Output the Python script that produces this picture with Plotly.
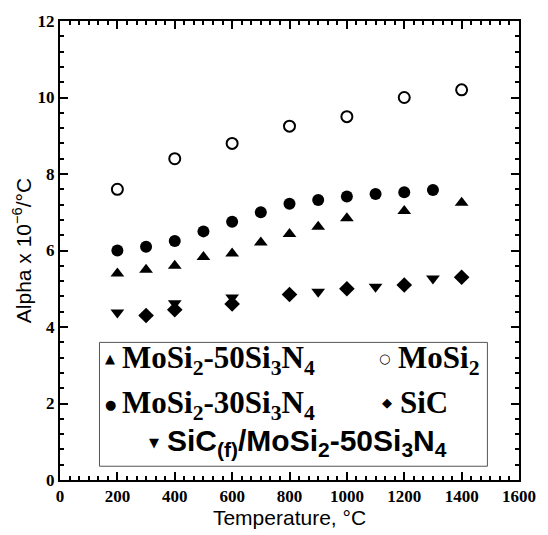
import plotly.graph_objects as go

# ---- data ----
temp_mosi2 = [200, 400, 600, 800, 1000, 1200, 1400]
alpha_mosi2 = [7.6, 8.4, 8.8, 9.25, 9.5, 10.0, 10.2]

temp_30 = [200, 300, 400, 500, 600, 700, 800, 900, 1000, 1100, 1200, 1300]
alpha_30 = [6.0, 6.1, 6.25, 6.5, 6.75, 7.0, 7.22, 7.32, 7.41, 7.48, 7.52, 7.58]

temp_50 = [200, 300, 400, 500, 600, 700, 800, 900, 1000, 1200, 1400]
alpha_50 = [5.4, 5.5, 5.6, 5.83, 5.92, 6.21, 6.43, 6.62, 6.84, 7.03, 7.25]

temp_sic = [300, 400, 600, 800, 1000, 1200, 1400]
alpha_sic = [4.3, 4.45, 4.6, 4.85, 5.0, 5.1, 5.3]

temp_sicf = [200, 400, 600, 900, 1100, 1300]
alpha_sicf = [4.38, 4.62, 4.77, 4.92, 5.05, 5.27]

x_ticks = [0, 200, 400, 600, 800, 1000, 1200, 1400, 1600]
y_ticks = [0, 2, 4, 6, 8, 10, 12]

# ---- figure ----
W, H = 548, 535
L, R, T, B = 60, 23, 18, 50
PW, PH = W - L - R, H - T - B

def px(xp):
    return (xp - L) / PW

def py(yp):
    return (H - B - yp) / PH

fig = go.Figure()
mk = dict(color="black", size=12)
fig.add_trace(go.Scatter(x=temp_mosi2, y=alpha_mosi2, mode="markers",
                         marker=dict(symbol="circle-open", color="black", size=11,
                                     line=dict(width=2, color="black"))))
fig.add_trace(go.Scatter(x=temp_30, y=alpha_30, mode="markers",
                         marker=dict(symbol="circle", **mk)))
fig.add_trace(go.Scatter(x=temp_50, y=alpha_50, mode="markers",
                         marker=dict(symbol="triangle-up", **mk)))
fig.add_trace(go.Scatter(x=temp_sicf, y=alpha_sicf, mode="markers",
                         marker=dict(symbol="triangle-down", **mk)))
fig.add_trace(go.Scatter(x=temp_sic, y=alpha_sic, mode="markers",
                         marker=dict(symbol="diamond", **mk)))

tickfont = dict(family="Liberation Serif", size=17, color="black", weight="bold")
axis_common = dict(showgrid=False, zeroline=False, showline=True, linewidth=2,
                   linecolor="black", mirror="ticks", ticks="inside",
                   ticklen=8, tickwidth=1.5, tickcolor="black", tickfont=tickfont)

fig.update_xaxes(range=[0, 1600], tickvals=x_ticks, ticktext=[f"<b>{v}</b>" for v in x_ticks],
                 minor=dict(dtick=200 / 6, tick0=0, ticks="inside", ticklen=4,
                            tickwidth=1.5, tickcolor="black"),
                 title=dict(text="Temperature, °C", standoff=2,
                            font=dict(family="Liberation Sans", size=21, color="black")),
                 **axis_common)
fig.update_yaxes(range=[0, 12], tickvals=y_ticks, ticktext=[f"<b>{v}</b>" for v in y_ticks],
                 minor=dict(dtick=0.4, tick0=0, ticks="inside", ticklen=4,
                            tickwidth=1.5, tickcolor="black"),
                 title=dict(text="Alpha x 10<sup>−6</sup>/°C", standoff=0,
                            font=dict(family="Liberation Sans", size=21, color="black")),
                 **axis_common)

# legend box
fig.add_shape(type="rect", xref="paper", yref="paper",
              x0=px(100), x1=px(493), y0=py(471), y1=py(345),
              line=dict(color="#555555", width=1), fillcolor="white", layer="below")

serif = dict(family="Liberation Serif", size=31, color="black", weight="bold")
sans = dict(family="Liberation Sans", size=30, color="black", weight="bold")
glyph = dict(family="DejaVu Sans", size=13, color="black")

def ann(text, xp, yp, font, xanchor="left"):
    fig.add_annotation(text=text, x=px(xp), y=py(yp), xref="paper", yref="paper",
                       xanchor=xanchor, yanchor="middle", showarrow=False, font=font)

ann("▲", 111, 361, glyph, "center")
ann("MoSi<sub>2</sub>-50Si<sub>3</sub>N<sub>4</sub>", 121, 363, serif)
ann("○", 389, 361, glyph, "center")
ann("MoSi<sub>2</sub>", 400, 363, serif)
ann("●", 111, 408, glyph, "center")
ann("MoSi<sub>2</sub>-30Si<sub>3</sub>N<sub>4</sub>", 121, 409, serif)
ann("◆", 391, 406, glyph, "center")
ann("SiC", 402, 406, serif)
ann("▼", 155, 447, glyph, "center")
ann("SiC<sub>(f)</sub>/MoSi<sub>2</sub>-50Si<sub>3</sub>N<sub>4</sub>", 166, 447, sans)

fig.update_layout(width=W, height=H, margin=dict(l=L, r=R, t=T, b=B, pad=0),
                  paper_bgcolor="white", plot_bgcolor="white", showlegend=False)

fig.write_html("out.html")
